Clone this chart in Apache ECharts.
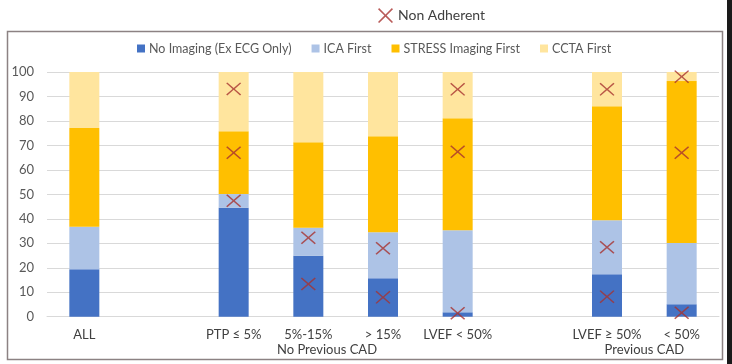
<!DOCTYPE html>
<html>
<head>
<meta charset="utf-8">
<script src="https://cdn.jsdelivr.net/npm/echarts@6/dist/echarts.min.js"></script>
<style>html,body{margin:0;padding:0;background:#fff;}#c{width:732px;height:364px;}</style>
</head>
<body>
<div id="c"></div>
<script>
// Categories (blank entries are the gaps between groups)
const categories = ['ALL', ' ', 'PTP ≤ 5%', '5%-15%', '> 15%', 'LVEF < 50%', '  ', 'LVEF ≥ 50%', '< 50%'];
// Segment shares (%) per category
const noImaging = [19.4, null, 44.5, 24.9, 15.7, 1.8, null, 17.3, 5.1];
const icaFirst = [17.4, null, 5.6, 11.5, 18.8, 33.5, null, 22.1, 25.0];
const stressFirst = [40.3, null, 25.7, 34.9, 39.2, 45.8, null, 46.6, 66.2];
const cctaFirst = [22.9, null, 24.2, 28.7, 26.3, 18.9, null, 14.0, 3.7];
// Non adherent markers: category index and value
const nonAdherentCat = [2, 2, 2, 3, 3, 4, 4, 5, 5, 5, 7, 7, 7, 8, 8, 8];
const nonAdherentVal = [93.1, 67.0, 47.4, 32.3, 13.4, 28.0, 7.9, 92.9, 67.4, 1.4, 92.9, 28.4, 8.2, 98.1, 67.0, 1.6];
// Group labels (on a quarter-slot axis)
const groupLabels = [{ pos: 15, text: 'No Previous CAD' }, { pos: 32, text: 'Previous CAD' }];
const yTicks = { min: 0, max: 100, interval: 10 };

const groupAxisData = [];
for (let i = 0; i <= categories.length * 4; i++) {
  const g = groupLabels.find(d => d.pos === i);
  groupAxisData.push(g ? g.text : '');
}
const FONT = 'Lato';
const xPath = 'path://M1.5,0 L10,8.5 L18.5,0 L20,1.5 L11.5,10 L20,18.5 L18.5,20 L10,11.5 L1.5,20 L0,18.5 L8.5,10 L0,1.5 Z';

const chart = echarts.init(document.getElementById('c'), null, { renderer: 'canvas' });
const barCommon = { type: 'bar', stack: 'a', barWidth: 30, xAxisIndex: 0 };
chart.setOption({
  animation: false,
  textStyle: { fontFamily: FONT },
  graphic: [
    { type: 'rect', z: -10, shape: { x: 7.5, y: 31.5, width: 715, height: 328 }, style: { fill: 'none', stroke: '#8c8283', lineWidth: 1.5 } },
    { type: 'rect', z: -10, shape: { x: 727, y: 0, width: 5, height: 364 }, style: { fill: '#1a1a1a' } }
  ],
  legend: [
    {
      data: [{ name: 'Non Adherent', icon: xPath }],
      left: 373, top: 3, itemWidth: 15, itemHeight: 15, itemGap: 8,
      textStyle: { fontFamily: FONT, fontSize: 14, color: '#404040' }
    },
    {
      data: ['No Imaging (Ex ECG Only)', 'ICA First', 'STRESS Imaging First', 'CCTA First'],
      left: 132, top: 37, itemWidth: 8, itemHeight: 8, itemGap: 20,
      icon: 'rect',
      textStyle: { fontFamily: FONT, fontSize: 12.5, color: '#595959', padding: [0, 0, 0, -1] }
    }
  ],
  grid: { left: 47, right: 13, top: 72, bottom: 47.3 },
  xAxis: [
    {
      type: 'category', data: categories,
      axisLine: { show: true, lineStyle: { color: '#d9d9d9' } },
      axisTick: { show: false },
      axisLabel: { interval: 0, margin: 12, fontFamily: FONT, fontSize: 13, color: '#404040' }
    },
    {
      type: 'category', data: groupAxisData, boundaryGap: false, position: 'bottom', offset: 15,
      axisLine: { show: false }, axisTick: { show: false }, splitLine: { show: false },
      axisLabel: { interval: 0, margin: 12, fontFamily: FONT, fontSize: 13, color: '#404040' }
    }
  ],
  yAxis: {
    type: 'value', min: yTicks.min, max: yTicks.max, interval: yTicks.interval,
    axisLine: { show: false }, axisTick: { show: false },
    splitLine: { lineStyle: { color: '#d9d9d9' } },
    axisLabel: { margin: 13, fontFamily: FONT, fontSize: 13, color: '#595959' }
  },
  series: [
    Object.assign({ name: 'No Imaging (Ex ECG Only)', data: noImaging, itemStyle: { color: '#4472c4' } }, barCommon),
    Object.assign({ name: 'ICA First', data: icaFirst, itemStyle: { color: '#adc3e6' } }, barCommon),
    Object.assign({ name: 'STRESS Imaging First', data: stressFirst, itemStyle: { color: '#ffbf00' } }, barCommon),
    Object.assign({ name: 'CCTA First', data: cctaFirst, itemStyle: { color: '#ffe59e' } }, barCommon),
    {
      name: 'Non Adherent', type: 'scatter', xAxisIndex: 0,
      symbol: xPath, symbolSize: [15, 13],
      itemStyle: { color: '#a8322f' },
      z: 10,
      data: nonAdherentCat.map((c, i) => [c, nonAdherentVal[i]])
    }
  ]
});
</script>
</body>
</html>
